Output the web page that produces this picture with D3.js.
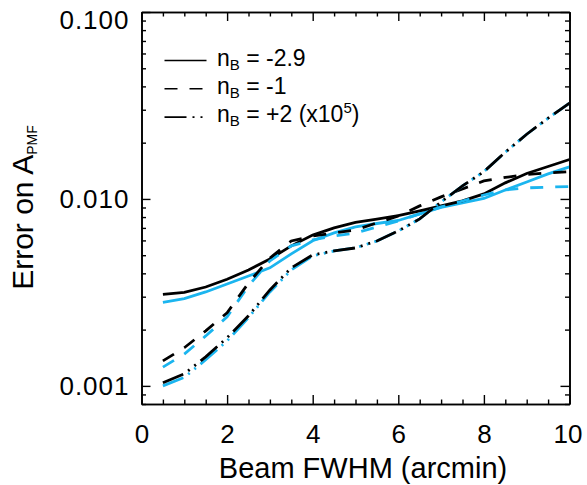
<!DOCTYPE html>
<html><head><meta charset="utf-8">
<script src="https://cdn.jsdelivr.net/npm/d3@7"></script>
<style>
body{margin:0;background:#fff;}
svg{display:block;font-family:"Liberation Sans",Arial,Helvetica,sans-serif;}
</style></head>
<body>
<svg id="c" width="587" height="485"></svg>
<script>
const beamFWHM = [0.5,1,1.5,2,2.5,3,3.5,4,4.5,5,5.5,6,6.5,7,7.5,8,8.5,9,9.5,10];

const nBm29_black = [0.00309,0.00316,0.00338,0.00372,0.00417,0.00477,0.00561,0.00641,0.00700,0.00749,0.00781,0.00815,0.00863,0.00918,0.00976,0.01064,0.01219,0.01368,0.01492,0.01626];
const nBm29_cyan  = [0.00280,0.00293,0.00318,0.00351,0.00387,0.00428,0.00508,0.00598,0.00658,0.00708,0.00739,0.00767,0.00832,0.00902,0.00953,0.01006,0.01117,0.01233,0.01361,0.01483];
const nBm1_black  = [0.00136,0.00160,0.00197,0.00246,0.00355,0.00483,0.00596,0.00634,0.00658,0.00683,0.00745,0.00811,0.00918,0.01026,0.01131,0.01248,0.01303,0.01352,0.01377,0.01400];
const nBm1_cyan   = [0.00126,0.00148,0.00185,0.00234,0.00343,0.00466,0.00561,0.00604,0.00634,0.00658,0.00708,0.00762,0.00832,0.00906,0.00975,0.01050,0.01117,0.01146,0.01156,0.01165];
const nBp2_black  = [0.00104,0.00116,0.00143,0.00181,0.00237,0.00326,0.00428,0.00502,0.00527,0.00547,0.00596,0.00674,0.00782,0.00964,0.01174,0.01400,0.01778,0.02219,0.02703,0.03251];
const nBp2_cyan   = [0.00100,0.00111,0.00138,0.00174,0.00232,0.00318,0.00417,0.00496,0.00527,0.00547,0.00596,0.00674,0.00782,0.00964,0.01174,0.01400,0.01778,0.02219,0.02703,0.03251];

const xMajorTicks = [0,2,4,6,8,10];
const xMinorTicks = [0.5,1,1.5,2.5,3,3.5,4.5,5,5.5,6.5,7,7.5,8.5,9,9.5];
const yMajorTicks = [0.001,0.010,0.100];
const yMinorTicks = [0.0008,0.0009,0.002,0.003,0.004,0.005,0.006,0.007,0.008,0.009,0.02,0.03,0.04,0.05,0.06,0.07,0.08,0.09];

const legendLabels = [
  {n:"-2.9", tail:""},
  {n:"-1", tail:""},
  {n:"+2 (x10", sup:"5", tail:")"}
];

const BLACK = "#000", CYAN = "#1bb5ef";
const DASH = "13,12", DDD = "22,6,2,6,2,6";

const series = [
  {vals:nBm29_cyan, color:CYAN, dash:null},
  {vals:nBm29_black, color:BLACK, dash:null},
  {vals:nBm1_cyan, color:CYAN, dash:DASH},
  {vals:nBm1_black, color:BLACK, dash:DASH},
  {vals:nBp2_cyan, color:CYAN, dash:DDD},
  {vals:nBp2_black, color:BLACK, dash:DDD}
];

const L=141.5, R=569.5, T=12, B=404;
const svg = d3.select("#c");
const x = d3.scaleLinear().domain([0,10]).range([L,R]);
const y = d3.scaleLog().domain([0.0008,0.1]).range([B,T]);

const g = svg.append("g");
const line = d3.line().x((d,i)=>x(beamFWHM[i])).y(d=>y(d));
svg.append("clipPath").attr("id","pc").append("rect")
  .attr("x",L).attr("y",T).attr("width",R-L).attr("height",B-T);
g.selectAll("path.s").data(series).join("path")
  .attr("class","s")
  .attr("clip-path","url(#pc)")
  .attr("d",d=>line(d.vals))
  .attr("fill","none")
  .attr("stroke",d=>d.color)
  .attr("stroke-width",2.8)
  .attr("stroke-dasharray",d=>d.dash);

function styleAxis(sel){
  sel.selectAll("path.domain").attr("stroke","#000").attr("stroke-width",1.6);
  sel.selectAll(".tick line").attr("stroke","#000").attr("stroke-width",1.4);
}
const tickFont = 26;
const bx = svg.append("g").attr("transform",`translate(0,${B})`)
  .call(d3.axisBottom(x).tickValues(xMajorTicks).tickSize(-9).tickSizeOuter(0).tickPadding(21).tickFormat(d3.format("d")));
bx.selectAll("text").attr("font-size",tickFont).attr("fill","#000").attr("font-family","Liberation Sans,Arial,sans-serif");
bx.selectAll(".tick").filter(d=>d===10).select("text").attr("dx",-2);
styleAxis(bx);
const bxm = svg.append("g").attr("transform",`translate(0,${B})`)
  .call(d3.axisBottom(x).tickValues(xMinorTicks).tickSize(-4.5).tickSizeOuter(0).tickFormat(""));
styleAxis(bxm);
const tx = svg.append("g").attr("transform",`translate(0,${T})`)
  .call(d3.axisTop(x).tickValues(xMajorTicks).tickSize(-9).tickSizeOuter(0).tickFormat(""));
styleAxis(tx);
const txm = svg.append("g").attr("transform",`translate(0,${T})`)
  .call(d3.axisTop(x).tickValues(xMinorTicks).tickSize(-4.5).tickSizeOuter(0).tickFormat(""));
styleAxis(txm);
const ly = svg.append("g").attr("transform",`translate(${L},0)`)
  .call(d3.axisLeft(y).tickValues(yMajorTicks).tickSize(-9).tickSizeOuter(0).tickPadding(12).tickFormat(d3.format(".3f")));
ly.selectAll("text").attr("font-size",tickFont).attr("fill","#000")
  .attr("letter-spacing","1px").attr("font-family","Liberation Sans,Arial,sans-serif")
  .attr("dy",d=> d===0.1 ? "0.62em" : "0.34em");
styleAxis(ly);
const lym = svg.append("g").attr("transform",`translate(${L},0)`)
  .call(d3.axisLeft(y).tickValues(yMinorTicks).tickSize(-4.5).tickSizeOuter(0).tickFormat(""));
styleAxis(lym);
const ry = svg.append("g").attr("transform",`translate(${R},0)`)
  .call(d3.axisRight(y).tickValues(yMajorTicks).tickSize(-9).tickSizeOuter(0).tickFormat(""));
styleAxis(ry);
const rym = svg.append("g").attr("transform",`translate(${R},0)`)
  .call(d3.axisRight(y).tickValues(yMinorTicks).tickSize(-4.5).tickSizeOuter(0).tickFormat(""));
styleAxis(rym);

svg.append("text").attr("x",363).attr("y",478).attr("text-anchor","middle")
  .attr("font-size",29).text("Beam FWHM (arcmin)");
const yt = svg.append("text").attr("transform","translate(33,207.5) rotate(-90)")
  .attr("text-anchor","middle").attr("font-size",30);
yt.append("tspan").text("Error on A");
yt.append("tspan").attr("font-size",14).attr("dy",4).text("PMF");

const lg = svg.append("g");
const legendDash = [null, DASH, DDD];
legendLabels.forEach((d,i)=>{
  const by = 65.5 + i*28.3;
  lg.append("line").attr("x1",164.5).attr("x2",206.5).attr("y1",by-5).attr("y2",by-5)
    .attr("stroke","#000").attr("stroke-width",1.6).attr("stroke-dasharray",legendDash[i]);
  const t = lg.append("text").attr("x",217).attr("y",by).attr("font-size",23);
  t.append("tspan").text("n");
  t.append("tspan").attr("font-size",15).attr("dy",4).text("B");
  t.append("tspan").attr("dy",-4).text(" = " + d.n);
  if(d.sup){
    t.append("tspan").attr("font-size",15).attr("dy",-9).text(d.sup);
    t.append("tspan").attr("dy",9).text(d.tail);
  }
});
</script>
</body></html>
